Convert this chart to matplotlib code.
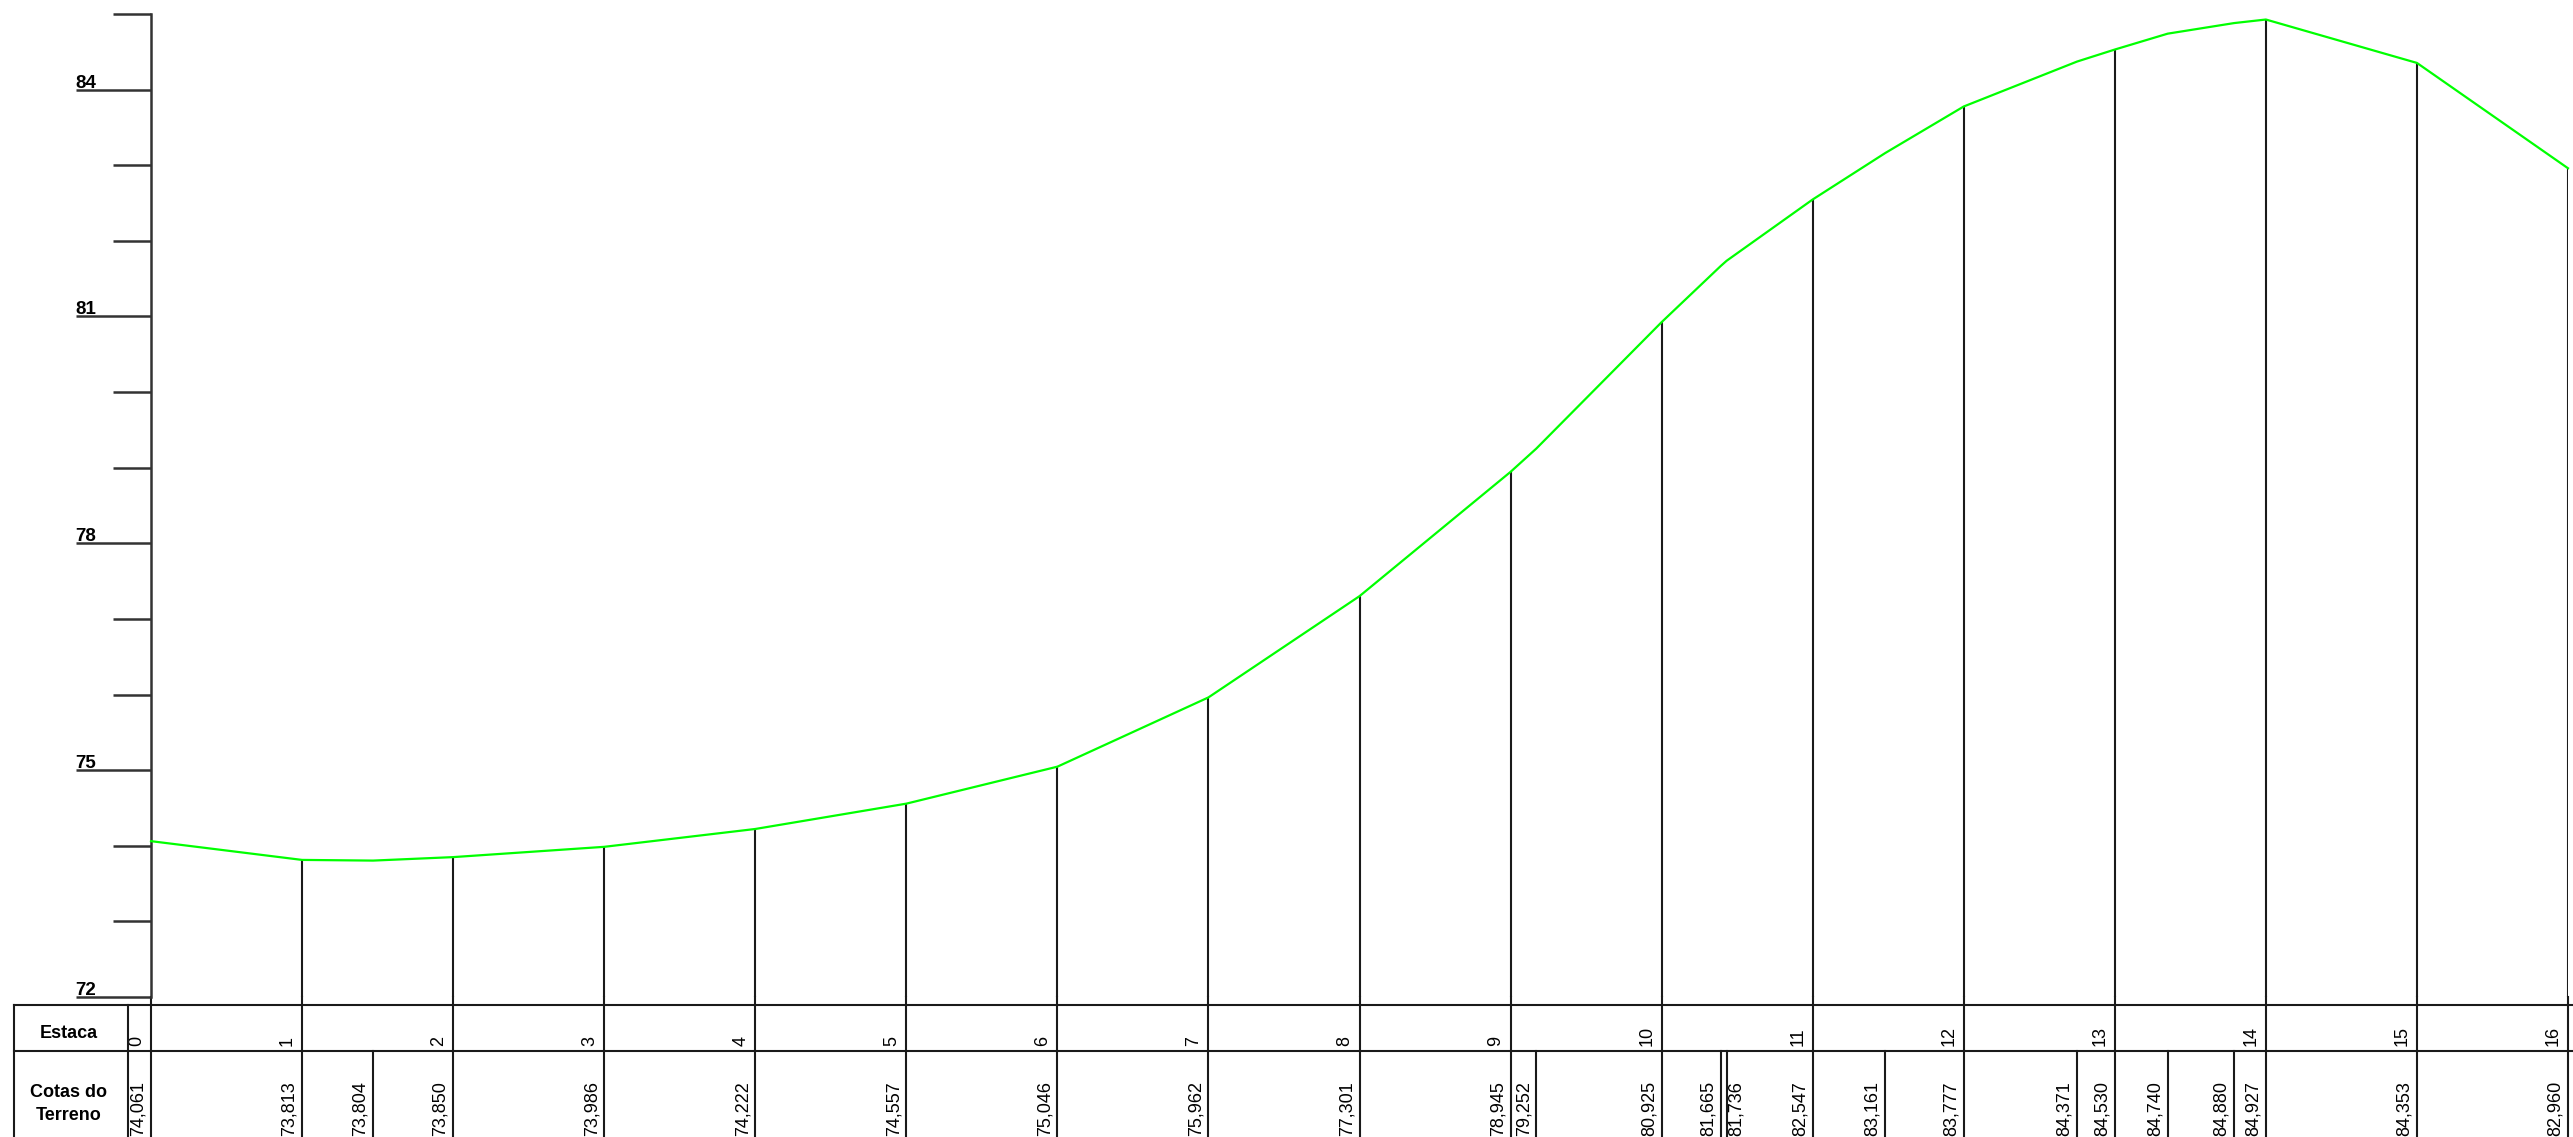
from __future__ import annotations

import matplotlib

matplotlib.use("Agg")
import matplotlib.pyplot as plt
from matplotlib.transforms import blended_transform_factory, offset_copy

W, H = 2573, 1137

# estacas inteiras e pontos do perfil (posicao em estacas, cota do terreno)
estacas = list(range(17))
posicoes = [0, 1, 1.47, 2, 3, 4, 5, 6, 7, 8, 9, 9.17, 10, 10.39, 10.43,
            11, 11.48, 12, 12.75, 13, 13.35, 13.79, 14, 15, 16]
cotas = [74.061, 73.813, 73.804, 73.850, 73.986, 74.222, 74.557, 75.046,
         75.962, 77.301, 78.945, 79.252, 80.925, 81.665, 81.736, 82.547,
         83.161, 83.777, 84.371, 84.530, 84.740, 84.880, 84.927, 84.353,
         82.960]
y_labels = [72, 75, 78, 81, 84]

LINE = "#1a1a1a"
plt.rcParams["font.family"] = ["Liberation Sans", "DejaVu Sans"]


def main() -> None:
    fig = plt.figure(figsize=(W / 100, H / 100), dpi=100)
    ax = fig.add_axes([151 / W, 140 / H, (2568 - 151) / W, 983 / H])
    ax.set_xlim(0, 16)
    ax.set_ylim(72, 85)

    ax.plot(posicoes, cotas, color="#00ff00", lw=1.6, zorder=3, clip_on=False)
    cota_est = [c for p, c in zip(posicoes, cotas) if float(p).is_integer()]
    ax.vlines(estacas[1:], 72, cota_est[1:], colors=LINE, lw=1.5)

    for s in ["top", "right", "bottom"]:
        ax.spines[s].set_visible(False)
    ax.spines["left"].set_color("#333333")
    ax.spines["left"].set_linewidth(1.8)
    ax.set_xticks([])
    ax.set_yticks(range(72, 86, 3))
    ax.set_yticks(range(72, 86), minor=True)
    ax.tick_params(axis="y", which="major", length=75 * 0.72, width=1.8,
                   color="#333333", labelleft=False)
    ax.tick_params(axis="y", which="minor", length=38 * 0.72, width=1.8,
                   color="#333333")

    ylab_tr = offset_copy(blended_transform_factory(fig.transFigure, ax.transData),
                          fig=fig, y=2, units="dots")
    for v in y_labels:
        ax.text(75 / W, v, str(v), transform=ylab_tr, ha="left", va="baseline",
                fontsize=13.5, fontweight="bold")

    # quadro inferior
    tr = blended_transform_factory(ax.transData, fig.transFigure)
    y_bot = ax.get_position().y0
    y_top = (H - 1005) / H
    y_row = (H - 1051) / H
    kw = dict(color=LINE, lw=1.5, clip_on=False)

    for e in estacas:
        ax.plot([e, e], [0, y_bot], transform=tr, **kw)
    for p in posicoes:
        if not float(p).is_integer():
            ax.plot([p, p], [0, y_row], transform=tr, **kw)

    for yy in (y_top, y_row):
        fig.add_artist(plt.Line2D([14 / W, 1], [yy, yy], transform=fig.transFigure,
                                  color=LINE, lw=1.5))
    for xx in (14 / W, 128 / W):
        fig.add_artist(plt.Line2D([xx, xx], [0, y_top], transform=fig.transFigure,
                                  color=LINE, lw=1.5))

    fig.text(69 / W, (H - 1034) / H, "Estaca", ha="center", va="center",
             fontsize=13, fontweight="bold")
    fig.text(69 / W, (H - 1104) / H, "Cotas do\nTerreno", ha="center",
             va="center", fontsize=13, fontweight="bold", linespacing=1.5)

    est_tr = offset_copy(tr, fig=fig, x=-6, units="dots")
    for e in estacas:
        ax.text(e, (H - 1046) / H, str(e), transform=est_tr, rotation=90,
                ha="right", va="bottom", fontsize=13)

    esq_tr = offset_copy(tr, fig=fig, x=-4, units="dots")
    dir_tr = offset_copy(tr, fig=fig, x=1, units="dots")
    prev = None
    for p, c in zip(posicoes, cotas):
        txt = f"{c:.3f}".replace(".", ",")
        # sem espaco a esquerda da divisoria: texto vai para a direita
        if prev is not None and p - prev < 0.1:
            ax.text(p, 1 / H, txt, transform=dir_tr, rotation=90,
                    ha="left", va="bottom", fontsize=13)
        else:
            ax.text(p, 1 / H, txt, transform=esq_tr, rotation=90,
                    ha="right", va="bottom", fontsize=13)
        prev = p

    fig.savefig("out.png", dpi=100)
    plt.close(fig)


if __name__ == "__main__":
    main()
